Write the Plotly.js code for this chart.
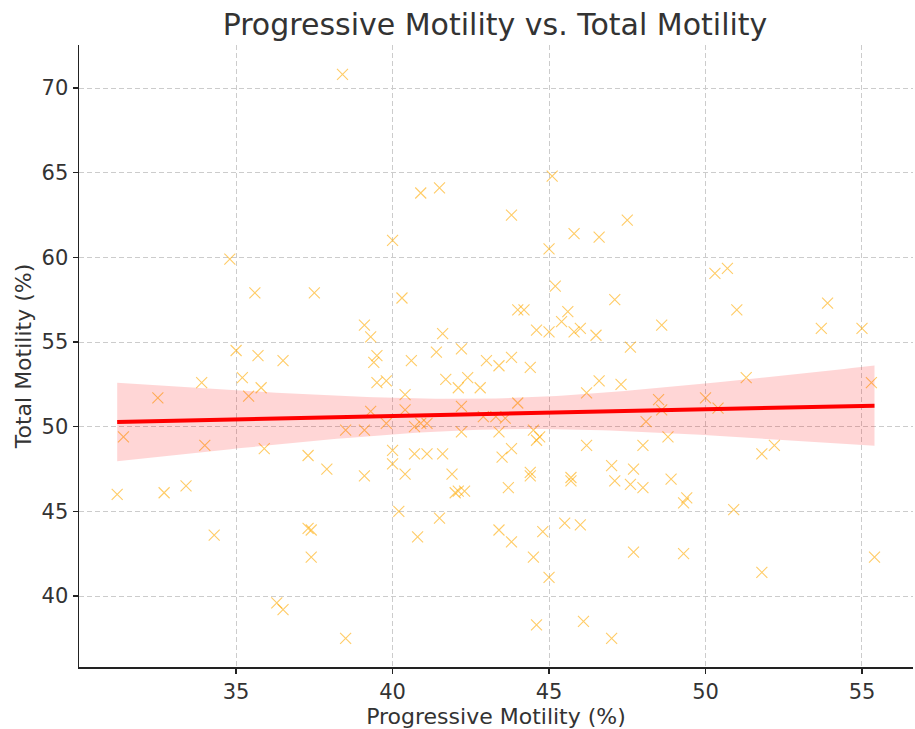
<!DOCTYPE html>
<html>
<head>
<meta charset="utf-8">
<script src="https://cdn.plot.ly/plotly-3.0.1.min.js"></script>
<style>html,body{margin:0;padding:0;background:#fff;}#chart{width:915px;height:729px;}</style>
</head>
<body>
<div id="chart"></div>
<script>
// Progressive motility (%) — x values
const progressive = [
  31.2,31.4,32.5,32.7,33.4,33.9,34.0,34.3,34.8,35.0,35.2,35.4,35.6,35.7,35.8,35.9,
  36.3,36.5,36.5,37.3,37.3,37.4,37.4,37.5,37.9,38.4,38.5,38.5,39.1,39.1,39.1,39.3,
  39.3,39.4,39.5,39.5,39.8,39.8,40.0,40.0,40.0,40.2,40.3,40.4,40.4,40.4,40.6,40.7,
  40.7,40.8,40.9,40.9,41.1,41.1,41.4,41.5,41.5,41.6,41.6,41.7,41.9,42.0,42.1,42.2,
  42.2,42.2,42.1,42.3,42.4,42.8,42.9,43.0,43.3,43.4,43.4,43.4,43.5,43.6,43.7,43.8,
  43.8,43.8,43.8,44.0,44.0,44.2,44.4,44.4,44.4,44.5,44.5,44.6,44.6,44.6,44.7,44.8,
  45.0,45.0,45.0,45.1,45.2,45.4,45.5,45.6,45.7,45.7,45.8,45.8,46.0,46.0,46.1,46.2,
  46.2,46.5,46.6,46.6,47.0,47.0,47.1,47.1,47.3,47.5,47.6,47.6,47.7,47.7,48.0,48.0,
  48.1,48.5,48.6,48.6,48.8,48.9,49.3,49.4,49.3,50.0,50.3,50.4,50.7,50.9,51.0,51.3,
  51.8,51.8,52.2,53.7,53.9,55.0,55.3,55.4
];
// Total motility (%) — y values
const total = [
  46.0,49.4,51.7,46.1,46.5,52.6,48.9,43.6,59.9,54.5,52.9,51.8,57.9,54.2,52.3,48.7,
  39.6,39.2,53.9,48.3,44.0,42.3,43.9,57.9,47.5,70.8,49.8,37.5,56.0,49.8,47.1,55.3,
  50.9,53.8,54.2,52.6,50.2,52.7,61.0,48.6,47.8,45.0,57.6,51.0,47.2,51.9,53.9,48.4,
  50.0,43.5,63.8,50.2,48.4,50.2,54.4,64.1,44.6,48.4,55.5,52.8,47.2,46.1,52.3,54.6,
  51.2,49.7,46.2,46.2,52.9,52.3,50.6,53.9,50.6,49.7,53.6,43.9,48.2,50.5,46.4,62.5,
  54.1,48.7,43.2,56.9,51.4,56.9,53.5,47.3,47.1,49.8,42.3,55.7,49.2,38.3,49.4,43.8,
  60.5,55.6,41.1,64.8,58.3,56.2,44.3,56.8,47.0,46.8,61.4,55.6,55.8,44.2,38.5,52.0,
  48.9,55.4,61.2,52.7,47.7,37.5,57.5,46.8,52.5,62.2,54.7,46.6,42.6,47.5,48.9,46.4,
  50.3,51.6,56.0,51.0,49.4,46.9,45.5,45.8,42.5,51.7,59.05,51.1,59.35,45.1,56.9,52.9,
  48.4,41.4,48.9,55.8,57.3,55.8,52.6,42.3
];

const titleText = "Progressive Motility vs. Total Motility";
const xLabel = "Progressive Motility (%)";
const yLabel = "Total Motility (%)";
const xTicks = [35, 40, 45, 50, 55];
const yTicks = [40, 45, 50, 55, 60, 65, 70];

// Linear regression with 95% confidence band (computed from the data)
function regression(xs, ys) {
  const n = xs.length;
  const mx = xs.reduce((a, b) => a + b, 0) / n;
  const my = ys.reduce((a, b) => a + b, 0) / n;
  let sxx = 0, sxy = 0;
  for (let i = 0; i < n; i++) { sxx += (xs[i] - mx) ** 2; sxy += (xs[i] - mx) * (ys[i] - my); }
  const b = sxy / sxx, a = my - b * mx;
  let sse = 0;
  for (let i = 0; i < n; i++) sse += (ys[i] - (a + b * xs[i])) ** 2;
  const s = Math.sqrt(sse / (n - 2));
  const t = 1.9;
  const lo = Math.min(...xs), hi = Math.max(...xs);
  const gx = [], gy = [], up = [], dn = [];
  const steps = 100;
  for (let k = 0; k <= steps; k++) {
    const x = lo + (hi - lo) * k / steps;
    const yh = a + b * x;
    const se = s * Math.sqrt(1 / n + (x - mx) ** 2 / sxx);
    gx.push(x); gy.push(yh); up.push(yh + t * se); dn.push(yh - t * se);
  }
  return { gx, gy, up, dn };
}
const fit = regression(progressive, total);

const traces = [
  {
    x: progressive, y: total, type: 'scatter', mode: 'markers',
    marker: { symbol: 'x-thin-open', size: 11, color: 'rgba(255,170,0,0.6)', line: { width: 1.1, color: 'rgba(255,170,0,0.6)' } },
    hoverinfo: 'x+y', showlegend: false
  },
  {
    x: fit.gx.concat(fit.gx.slice().reverse()),
    y: fit.up.concat(fit.dn.slice().reverse()),
    type: 'scatter', mode: 'lines', fill: 'toself',
    fillcolor: 'rgba(255,0,0,0.16)', line: { width: 0, color: 'rgba(0,0,0,0)' },
    hoverinfo: 'skip', showlegend: false
  },
  {
    x: fit.gx, y: fit.gy, type: 'scatter', mode: 'lines',
    line: { color: '#ff0000', width: 4 }, showlegend: false
  }
];

const font = "DejaVu Sans, sans-serif";
const layout = {
  width: 915, height: 729,
  margin: { l: 79, r: 2, t: 45, b: 62 },
  paper_bgcolor: '#fff', plot_bgcolor: '#fff',
  font: { family: font, color: '#333' },
  title: { text: titleText, font: { family: font, size: 30, color: '#333' }, x: 0.541, xanchor: 'center', y: 0.966, yanchor: 'middle' },
  xaxis: {
    range: [29.98, 56.63], tickvals: xTicks, ticktext: xTicks.map(String),
    showgrid: true, gridcolor: '#cccccc', griddash: '5px,3px', gridwidth: 1,
    zeroline: false, showline: true, linecolor: '#222', linewidth: 1.5,
    ticks: 'outside', ticklen: 5, tickwidth: 1.3, tickcolor: '#222',
    tickfont: { family: font, size: 21, color: '#333' },
    title: { text: xLabel, font: { family: font, size: 22, color: '#333' }, standoff: 4 }
  },
  yaxis: {
    range: [35.81, 72.54], tickvals: yTicks, ticktext: yTicks.map(String),
    showgrid: true, gridcolor: '#cccccc', griddash: '5px,3px', gridwidth: 1,
    zeroline: false, showline: true, linecolor: '#222', linewidth: 1.5,
    ticks: 'outside', ticklen: 5, tickwidth: 1.3, tickcolor: '#222',
    tickfont: { family: font, size: 21, color: '#333' },
    title: { text: yLabel, font: { family: font, size: 22, color: '#333' }, standoff: 4 }
  }
};

Plotly.newPlot('chart', traces, layout, { displayModeBar: false, staticPlot: true });
</script>
</body>
</html>
